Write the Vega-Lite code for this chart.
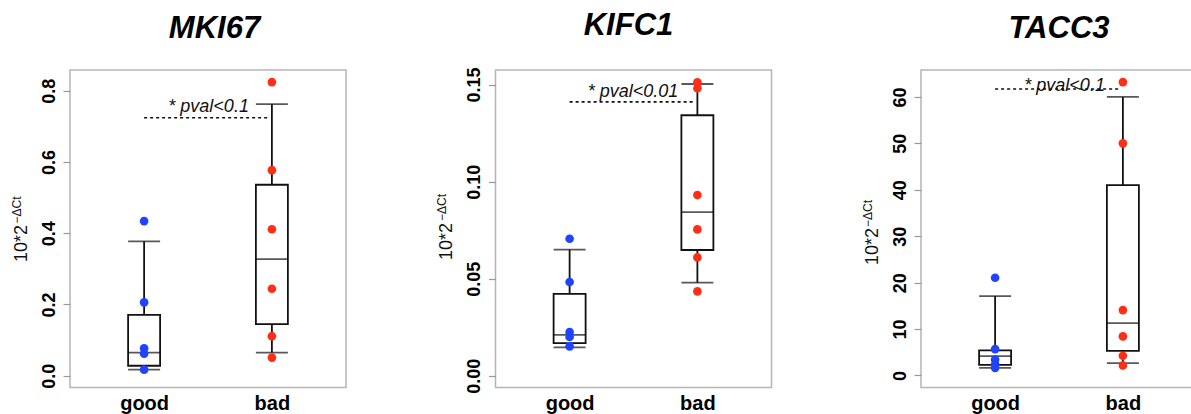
{
  "$schema": "https://vega.github.io/schema/vega-lite/v6.json",
  "padding": {"left": 9, "top": 9, "right": -7, "bottom": 0},
  "background": "#ffffff",
  "datasets": {
    "stats": [
      {"gene": "MKI67", "group": "good", "lower": 0.017, "q1": 0.028, "median": 0.065, "q3": 0.171, "upper": 0.377},
      {"gene": "MKI67", "group": "bad", "lower": 0.065, "q1": 0.145, "median": 0.327, "q3": 0.536, "upper": 0.762},
      {"gene": "KIFC1", "group": "good", "lower": 0.0147, "q1": 0.0168, "median": 0.0211, "q3": 0.0422, "upper": 0.065},
      {"gene": "KIFC1", "group": "bad", "lower": 0.048, "q1": 0.0648, "median": 0.0843, "q3": 0.1342, "upper": 0.1503},
      {"gene": "TACC3", "group": "good", "lower": 1.65, "q1": 2.3, "median": 4.17, "q3": 5.39, "upper": 17.1},
      {"gene": "TACC3", "group": "bad", "lower": 2.66, "q1": 5.32, "median": 11.28, "q3": 41.0, "upper": 60.0}
    ],
    "points": [
      {"gene": "MKI67", "group": "good", "value": 0.434},
      {"gene": "MKI67", "group": "good", "value": 0.206},
      {"gene": "MKI67", "group": "good", "value": 0.077},
      {"gene": "MKI67", "group": "good", "value": 0.062},
      {"gene": "MKI67", "group": "good", "value": 0.017},
      {"gene": "MKI67", "group": "bad", "value": 0.824},
      {"gene": "MKI67", "group": "bad", "value": 0.577},
      {"gene": "MKI67", "group": "bad", "value": 0.411},
      {"gene": "MKI67", "group": "bad", "value": 0.244},
      {"gene": "MKI67", "group": "bad", "value": 0.111},
      {"gene": "MKI67", "group": "bad", "value": 0.051},
      {"gene": "KIFC1", "group": "good", "value": 0.0706},
      {"gene": "KIFC1", "group": "good", "value": 0.0483},
      {"gene": "KIFC1", "group": "good", "value": 0.0226},
      {"gene": "KIFC1", "group": "good", "value": 0.02},
      {"gene": "KIFC1", "group": "good", "value": 0.0152},
      {"gene": "KIFC1", "group": "bad", "value": 0.1512},
      {"gene": "KIFC1", "group": "bad", "value": 0.1481},
      {"gene": "KIFC1", "group": "bad", "value": 0.0931},
      {"gene": "KIFC1", "group": "bad", "value": 0.0754},
      {"gene": "KIFC1", "group": "bad", "value": 0.061},
      {"gene": "KIFC1", "group": "bad", "value": 0.0435},
      {"gene": "TACC3", "group": "good", "value": 21.05},
      {"gene": "TACC3", "group": "good", "value": 5.67},
      {"gene": "TACC3", "group": "good", "value": 3.45},
      {"gene": "TACC3", "group": "good", "value": 2.4},
      {"gene": "TACC3", "group": "good", "value": 1.65},
      {"gene": "TACC3", "group": "bad", "value": 63.2},
      {"gene": "TACC3", "group": "bad", "value": 50.0},
      {"gene": "TACC3", "group": "bad", "value": 14.08},
      {"gene": "TACC3", "group": "bad", "value": 8.41},
      {"gene": "TACC3", "group": "bad", "value": 4.24},
      {"gene": "TACC3", "group": "bad", "value": 2.16}
    ],
    "tests": [
      {"gene": "MKI67", "from": "good", "to": "bad", "line_y": 0.724, "text_y": 0.739, "label": "* pval<0.1"},
      {"gene": "KIFC1", "from": "good", "to": "bad", "line_y": 0.1411, "text_y": 0.1435, "label": "* pval<0.01"},
      {"gene": "TACC3", "from": "good", "to": "bad", "line_y": 61.7, "text_y": 61.3, "label": "* pval<0.1"}
    ]
  },
  "hconcat": [
    {
      "width": 276,
      "height": 317.5,
      "title": {"text": "MKI67", "dx": 6.5},
      "encoding": {
        "x": {"field": "group", "type": "nominal", "title": null, "scale": {"type": "point", "domain": ["good", "bad"], "padding": 0.58}}
      },
      "layer": [
        {
          "data": {"name": "stats"},
          "transform": [{"filter": "datum.gene === 'MKI67'"}],
          "mark": {"type": "rule", "color": "#111111", "strokeWidth": 1.8},
          "encoding": {
            "y": {"field": "lower", "type": "quantitative", "scale": {"domain": [-0.033, 0.858], "nice": false, "zero": false}, "axis": null},
            "y2": {"field": "upper"}
          }
        },
        {
          "data": {"name": "stats"},
          "transform": [{"filter": "datum.gene === 'MKI67'"}],
          "mark": {"type": "bar", "size": 32, "fill": "#ffffff", "stroke": "#111111", "strokeWidth": 1.8},
          "encoding": {
            "y": {"field": "q1", "type": "quantitative", "scale": {"domain": [-0.033, 0.858], "nice": false, "zero": false},
              "axis": {"values": [0, 0.2, 0.4, 0.6, 0.8], "format": ".1f", "title": "10*2", "titleX": -49, "titleY": 173}},
            "y2": {"field": "q3"}
          }
        },
        {
          "data": {"name": "stats"},
          "transform": [{"filter": "datum.gene === 'MKI67'"}],
          "mark": {"type": "tick", "size": 32, "thickness": 1.8, "color": "#111111"},
          "encoding": {"y": {"field": "median", "type": "quantitative", "scale": {"domain": [-0.033, 0.858], "nice": false, "zero": false}, "axis": null}}
        },
        {
          "data": {"name": "stats"},
          "transform": [{"filter": "datum.gene === 'MKI67'"}],
          "mark": {"type": "tick", "size": 32, "thickness": 1.8, "color": "#111111"},
          "encoding": {"y": {"field": "lower", "type": "quantitative", "scale": {"domain": [-0.033, 0.858], "nice": false, "zero": false}, "axis": null}}
        },
        {
          "data": {"name": "stats"},
          "transform": [{"filter": "datum.gene === 'MKI67'"}],
          "mark": {"type": "tick", "size": 32, "thickness": 1.8, "color": "#111111"},
          "encoding": {"y": {"field": "upper", "type": "quantitative", "scale": {"domain": [-0.033, 0.858], "nice": false, "zero": false}, "axis": null}}
        },
        {
          "data": {"name": "points"},
          "transform": [{"filter": "datum.gene === 'MKI67'"}],
          "mark": {"type": "circle", "size": 75, "opacity": 1},
          "encoding": {
            "y": {"field": "value", "type": "quantitative", "scale": {"domain": [-0.033, 0.858], "nice": false, "zero": false},
              "axis": {"orient": "left", "labels": false, "ticks": false, "domain": false, "title": "−ΔCt", "titleFontSize": 12, "titleX": -54, "titleY": 139.5}},
            "color": {"field": "group", "type": "nominal", "scale": {"domain": ["good", "bad"], "range": ["#1f43ff", "#ff2e14"]}, "legend": null}
          }
        },
        {
          "data": {"name": "tests"},
          "transform": [{"filter": "datum.gene === 'MKI67'"}],
          "mark": {"type": "rule", "strokeDash": [3, 3], "strokeWidth": 1.6, "color": "#111111", "x2Offset": -4},
          "encoding": {
            "x": {"field": "from", "type": "nominal", "title": null, "scale": {"type": "point", "domain": ["good", "bad"], "padding": 0.58}},
            "x2": {"field": "to"},
            "y": {"field": "line_y", "type": "quantitative", "scale": {"domain": [-0.033, 0.858], "nice": false, "zero": false}, "axis": null}
          }
        },
        {
          "data": {"name": "tests"},
          "transform": [{"filter": "datum.gene === 'MKI67'"}],
          "mark": {"type": "text", "align": "right", "baseline": "alphabetic", "dx": -23, "font": "Liberation Sans", "fontSize": 18, "fontStyle": "italic", "color": "#111111"},
          "encoding": {
            "x": {"field": "to", "type": "nominal", "title": null, "scale": {"type": "point", "domain": ["good", "bad"], "padding": 0.58}},
            "y": {"field": "text_y", "type": "quantitative", "scale": {"domain": [-0.033, 0.858], "nice": false, "zero": false}, "axis": null},
            "text": {"field": "label"}
          }
        }
      ],
      "resolve": {"axis": {"y": "independent"}}
    },
    {
      "width": 276,
      "height": 317.5,
      "title": {"text": "KIFC1", "dx": -5},
      "encoding": {
        "x": {"field": "group", "type": "nominal", "title": null, "scale": {"type": "point", "domain": ["good", "bad"], "padding": 0.58}}
      },
      "layer": [
        {
          "data": {"name": "stats"},
          "transform": [{"filter": "datum.gene === 'KIFC1'"}],
          "mark": {"type": "rule", "color": "#111111", "strokeWidth": 1.8},
          "encoding": {
            "y": {"field": "lower", "type": "quantitative", "scale": {"domain": [-0.006, 0.1575], "nice": false, "zero": false}, "axis": null},
            "y2": {"field": "upper"}
          }
        },
        {
          "data": {"name": "stats"},
          "transform": [{"filter": "datum.gene === 'KIFC1'"}],
          "mark": {"type": "bar", "size": 32, "fill": "#ffffff", "stroke": "#111111", "strokeWidth": 1.8},
          "encoding": {
            "y": {"field": "q1", "type": "quantitative", "scale": {"domain": [-0.006, 0.1575], "nice": false, "zero": false},
              "axis": {"values": [0, 0.05, 0.1, 0.15], "format": ".2f", "title": "10*2", "titleX": -49, "titleY": 171}},
            "y2": {"field": "q3"}
          }
        },
        {
          "data": {"name": "stats"},
          "transform": [{"filter": "datum.gene === 'KIFC1'"}],
          "mark": {"type": "tick", "size": 32, "thickness": 1.8, "color": "#111111"},
          "encoding": {"y": {"field": "median", "type": "quantitative", "scale": {"domain": [-0.006, 0.1575], "nice": false, "zero": false}, "axis": null}}
        },
        {
          "data": {"name": "stats"},
          "transform": [{"filter": "datum.gene === 'KIFC1'"}],
          "mark": {"type": "tick", "size": 32, "thickness": 1.8, "color": "#111111"},
          "encoding": {"y": {"field": "lower", "type": "quantitative", "scale": {"domain": [-0.006, 0.1575], "nice": false, "zero": false}, "axis": null}}
        },
        {
          "data": {"name": "stats"},
          "transform": [{"filter": "datum.gene === 'KIFC1'"}],
          "mark": {"type": "tick", "size": 32, "thickness": 1.8, "color": "#111111"},
          "encoding": {"y": {"field": "upper", "type": "quantitative", "scale": {"domain": [-0.006, 0.1575], "nice": false, "zero": false}, "axis": null}}
        },
        {
          "data": {"name": "points"},
          "transform": [{"filter": "datum.gene === 'KIFC1'"}],
          "mark": {"type": "circle", "size": 75, "opacity": 1},
          "encoding": {
            "y": {"field": "value", "type": "quantitative", "scale": {"domain": [-0.006, 0.1575], "nice": false, "zero": false},
              "axis": {"orient": "left", "labels": false, "ticks": false, "domain": false, "title": "−ΔCt", "titleFontSize": 12, "titleX": -54, "titleY": 137}},
            "color": {"field": "group", "type": "nominal", "scale": {"domain": ["good", "bad"], "range": ["#1f43ff", "#ff2e14"]}, "legend": null}
          }
        },
        {
          "data": {"name": "tests"},
          "transform": [{"filter": "datum.gene === 'KIFC1'"}],
          "mark": {"type": "rule", "strokeDash": [3, 3], "strokeWidth": 1.6, "color": "#111111", "x2Offset": -4},
          "encoding": {
            "x": {"field": "from", "type": "nominal", "title": null, "scale": {"type": "point", "domain": ["good", "bad"], "padding": 0.58}},
            "x2": {"field": "to"},
            "y": {"field": "line_y", "type": "quantitative", "scale": {"domain": [-0.006, 0.1575], "nice": false, "zero": false}, "axis": null}
          }
        },
        {
          "data": {"name": "tests"},
          "transform": [{"filter": "datum.gene === 'KIFC1'"}],
          "mark": {"type": "text", "align": "right", "baseline": "alphabetic", "dx": -19, "font": "Liberation Sans", "fontSize": 18, "fontStyle": "italic", "color": "#111111"},
          "encoding": {
            "x": {"field": "to", "type": "nominal", "title": null, "scale": {"type": "point", "domain": ["good", "bad"], "padding": 0.58}},
            "y": {"field": "text_y", "type": "quantitative", "scale": {"domain": [-0.006, 0.1575], "nice": false, "zero": false}, "axis": null},
            "text": {"field": "label"}
          }
        }
      ],
      "resolve": {"axis": {"y": "independent"}}
    },
    {
      "width": 276,
      "height": 317.5,
      "title": {"text": "TACC3", "dx": 0},
      "encoding": {
        "x": {"field": "group", "type": "nominal", "title": null, "scale": {"type": "point", "domain": ["good", "bad"], "padding": 0.58}}
      },
      "layer": [
        {
          "data": {"name": "stats"},
          "transform": [{"filter": "datum.gene === 'TACC3'"}],
          "mark": {"type": "rule", "color": "#111111", "strokeWidth": 1.8},
          "encoding": {
            "y": {"field": "lower", "type": "quantitative", "scale": {"domain": [-2.59, 65.8], "nice": false, "zero": false}, "axis": null},
            "y2": {"field": "upper"}
          }
        },
        {
          "data": {"name": "stats"},
          "transform": [{"filter": "datum.gene === 'TACC3'"}],
          "mark": {"type": "bar", "size": 32, "fill": "#ffffff", "stroke": "#111111", "strokeWidth": 1.8},
          "encoding": {
            "y": {"field": "q1", "type": "quantitative", "scale": {"domain": [-2.59, 65.8], "nice": false, "zero": false},
              "axis": {"values": [0, 10, 20, 30, 40, 50, 60], "format": "d", "title": "10*2", "titleX": -49, "titleY": 176}},
            "y2": {"field": "q3"}
          }
        },
        {
          "data": {"name": "stats"},
          "transform": [{"filter": "datum.gene === 'TACC3'"}],
          "mark": {"type": "tick", "size": 32, "thickness": 1.8, "color": "#111111"},
          "encoding": {"y": {"field": "median", "type": "quantitative", "scale": {"domain": [-2.59, 65.8], "nice": false, "zero": false}, "axis": null}}
        },
        {
          "data": {"name": "stats"},
          "transform": [{"filter": "datum.gene === 'TACC3'"}],
          "mark": {"type": "tick", "size": 32, "thickness": 1.8, "color": "#111111"},
          "encoding": {"y": {"field": "lower", "type": "quantitative", "scale": {"domain": [-2.59, 65.8], "nice": false, "zero": false}, "axis": null}}
        },
        {
          "data": {"name": "stats"},
          "transform": [{"filter": "datum.gene === 'TACC3'"}],
          "mark": {"type": "tick", "size": 32, "thickness": 1.8, "color": "#111111"},
          "encoding": {"y": {"field": "upper", "type": "quantitative", "scale": {"domain": [-2.59, 65.8], "nice": false, "zero": false}, "axis": null}}
        },
        {
          "data": {"name": "points"},
          "transform": [{"filter": "datum.gene === 'TACC3'"}],
          "mark": {"type": "circle", "size": 75, "opacity": 1},
          "encoding": {
            "y": {"field": "value", "type": "quantitative", "scale": {"domain": [-2.59, 65.8], "nice": false, "zero": false},
              "axis": {"orient": "left", "labels": false, "ticks": false, "domain": false, "title": "−ΔCt", "titleFontSize": 12, "titleX": -54, "titleY": 143}},
            "color": {"field": "group", "type": "nominal", "scale": {"domain": ["good", "bad"], "range": ["#1f43ff", "#ff2e14"]}, "legend": null}
          }
        },
        {
          "data": {"name": "tests"},
          "transform": [{"filter": "datum.gene === 'TACC3'"}],
          "mark": {"type": "rule", "strokeDash": [3, 3], "strokeWidth": 1.6, "color": "#111111", "x2Offset": -4},
          "encoding": {
            "x": {"field": "from", "type": "nominal", "title": null, "scale": {"type": "point", "domain": ["good", "bad"], "padding": 0.58}},
            "x2": {"field": "to"},
            "y": {"field": "line_y", "type": "quantitative", "scale": {"domain": [-2.59, 65.8], "nice": false, "zero": false}, "axis": null}
          }
        },
        {
          "data": {"name": "tests"},
          "transform": [{"filter": "datum.gene === 'TACC3'"}],
          "mark": {"type": "text", "align": "right", "baseline": "alphabetic", "dx": -18, "font": "Liberation Sans", "fontSize": 18, "fontStyle": "italic", "color": "#111111"},
          "encoding": {
            "x": {"field": "to", "type": "nominal", "title": null, "scale": {"type": "point", "domain": ["good", "bad"], "padding": 0.58}},
            "y": {"field": "text_y", "type": "quantitative", "scale": {"domain": [-2.59, 65.8], "nice": false, "zero": false}, "axis": null},
            "text": {"field": "label"}
          }
        }
      ],
      "resolve": {"axis": {"y": "independent"}}
    }
  ],
  "spacing": 149.5,
  "bounds": "flush",
  "config": {
    "font": "Liberation Sans",
    "view": {"stroke": "#b5b5b5", "strokeWidth": 1.5},
    "title": {"font": "Liberation Sans", "fontSize": 31, "fontWeight": "bold", "fontStyle": "italic", "color": "#000000", "anchor": "middle", "baseline": "alphabetic", "offset": 24.7, "frame": "group"},
    "axis": {"labelFont": "Liberation Sans", "titleFont": "Liberation Sans", "grid": false},
    "axisX": {"labelFontSize": 20, "labelFontWeight": "bold", "labelColor": "#000000", "labelAngle": 0, "ticks": false, "tickSize": 0, "domain": false, "labelPadding": 22, "labelBaseline": "alphabetic"},
    "axisY": {"labelFontSize": 18, "labelFontWeight": "bold", "labelColor": "#000000", "labelAngle": 270, "labelAlign": "center", "labelBaseline": "bottom", "tickColor": "#999999", "tickSize": 7, "tickWidth": 1.2, "labelPadding": 5, "domain": false, "titleFontSize": 18, "titleFontWeight": "normal", "titleColor": "#111111", "titleAngle": 270, "titleAlign": "center", "titleBaseline": "middle"}
  }
}
